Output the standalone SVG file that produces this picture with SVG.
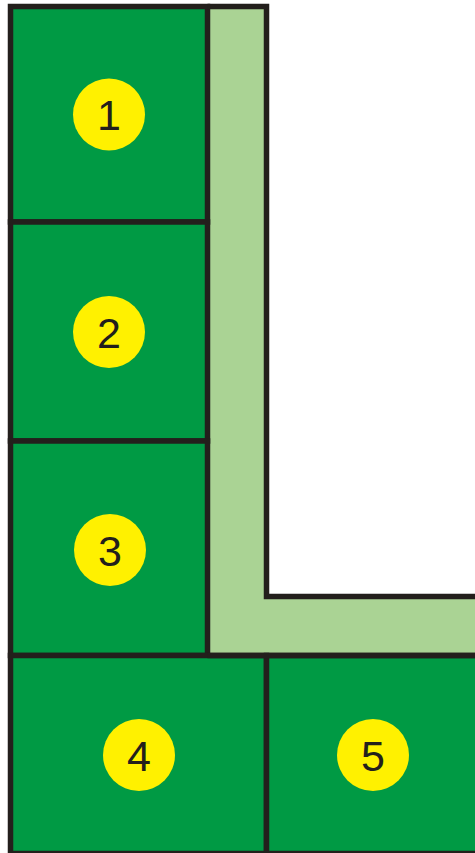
<svg xmlns="http://www.w3.org/2000/svg" width="475" height="853" viewBox="0 0 475 853">
<style>
.box{fill:#009a44;stroke:#231f1c;stroke-width:5.5}
.band{fill:#aad394;stroke:none}
.ln{fill:none;stroke:#231f1c;stroke-width:5.5}
.dot{fill:#fff100}
.lbl{font-family:"Liberation Sans",Arial,sans-serif;font-size:43px;fill:#231f1c;text-anchor:middle}
</style>
<rect width="475" height="853" fill="#ffffff"/>
<g id="band">
<path class="band" d="M207.5,6.5 H266.5 V596.5 H478 V655.5 H207.5 Z"/>
</g>
<g id="node1"><rect class="box" x="10.5" y="6.5" width="197" height="215.5"/><circle class="dot" cx="109" cy="114.5" r="36"/><text class="lbl" x="109" y="130">1</text></g>
<g id="node2"><rect class="box" x="10.5" y="222" width="197" height="219"/><circle class="dot" cx="109" cy="332" r="36"/><text class="lbl" x="109" y="347.5">2</text></g>
<g id="node3"><rect class="box" x="10.5" y="441" width="197" height="214.5"/><circle class="dot" cx="110" cy="550" r="36"/><text class="lbl" x="110" y="565.5">3</text></g>
<g id="node4"><rect class="box" x="10.5" y="655.5" width="256" height="198"/><circle class="dot" cx="139" cy="755" r="36"/><text class="lbl" x="139" y="770.5">4</text></g>
<g id="node5"><rect class="box" x="266.5" y="655.5" width="215" height="198"/><circle class="dot" cx="373" cy="755" r="36"/><text class="lbl" x="373" y="770.5">5</text></g>
<g id="connectors">
<path class="ln" d="M207.5,6.5 H266.5 V596.5 H478"/>
<path class="ln" d="M207.5,655.5 H478"/>
</g>
</svg>
